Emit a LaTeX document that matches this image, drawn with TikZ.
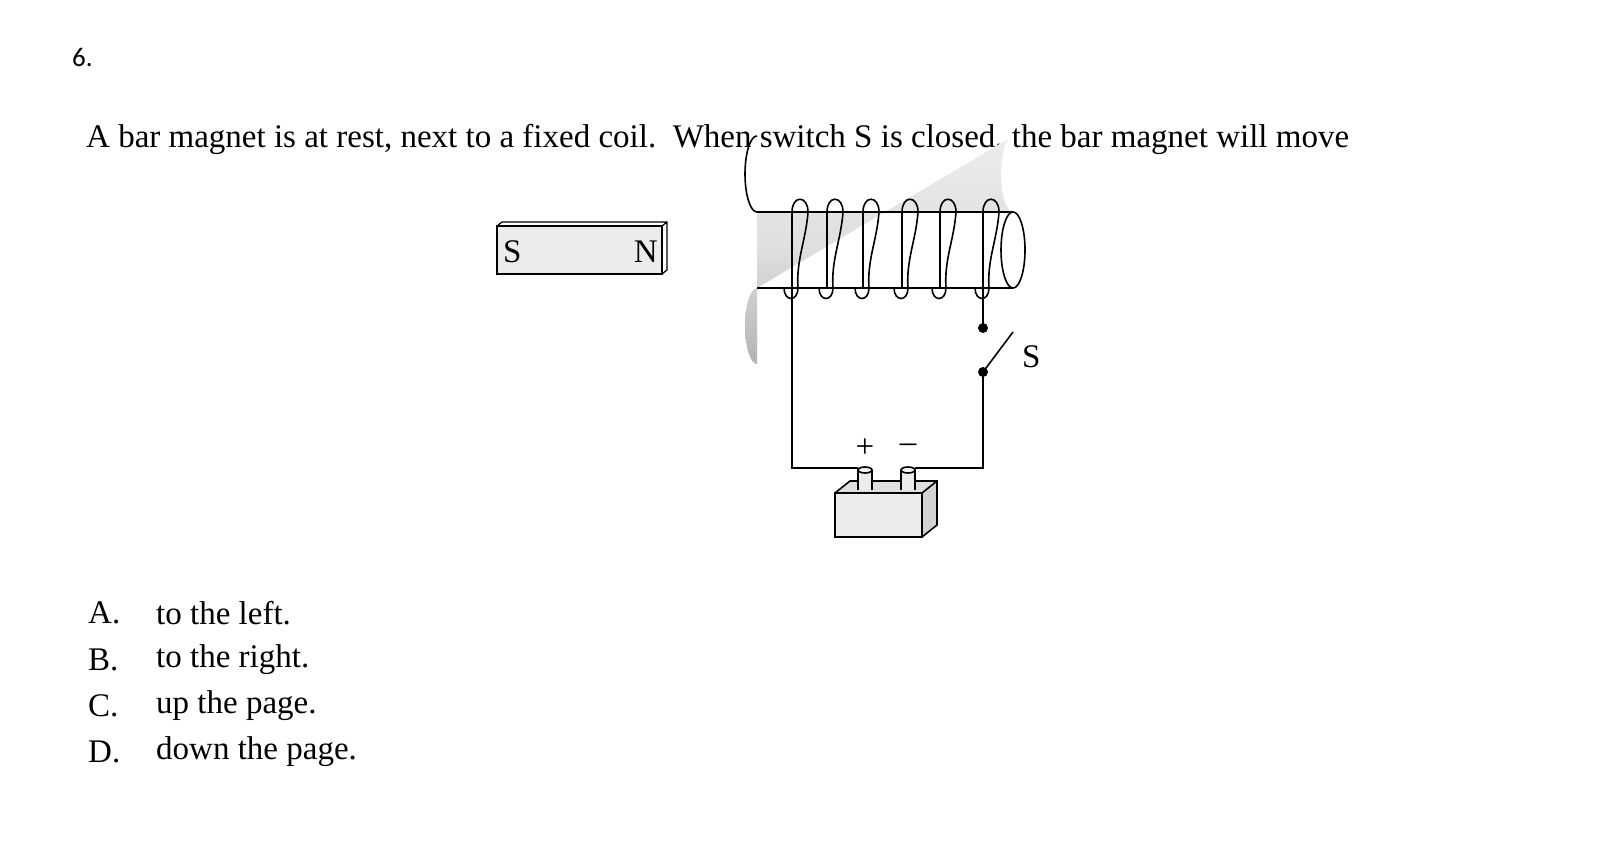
\documentclass[tikz,border=0pt]{standalone}
\usepackage{fontspec}
\setmainfont{Liberation Serif}
\newfontfamily\numfont{Carlito}
\begin{document}
\begin{tikzpicture}[x=1pt,y=-1pt,
  wire/.style={line width=1.6pt},
  txt/.style={font=\fontsize{33}{36}\selectfont,inner sep=0pt},
  dot/.style={circle,fill=black,inner sep=0pt,minimum size=10pt}]
\useasboundingbox (0,0) rectangle (1613,845);
\node[font=\numfont\fontsize{27}{30}\selectfont,anchor=west,inner sep=0pt] (num) at (72,57) {6.};
\node[txt,anchor=base west] (q) at (86,148) {A bar magnet is at rest, next to a fixed coil.\ \ When switch S is closed, the bar magnet will move};
% magnet
\fill[gray!15] (497,226) rectangle (662,274);
\draw[wire] (497,226) rectangle (662,274);
\draw[line width=1.2pt] (497,226) -- (502,222) -- (667,222) -- (667,270) -- (662,274) (662,226) -- (667,222);
\node[txt,anchor=west] (ms) at (503,252) {S};
\node[txt,anchor=east] (mn) at (658,252) {N};
% coil
\shade[top color=gray!15,bottom color=gray!60,middle color=gray!25] (757,212) -- (1013,212) arc (90:270:12 and 38) -- (757,288) arc (270:90:12 and 38) -- cycle;
\draw[wire] (757,212) -- (1013,212) (757,288) -- (1013,288);
\draw[wire] (757,212) arc (90:270:12 and 38);
\draw[wire] (1013,250) ellipse (12 and 38);
\foreach \x in {792,827,863,902,940,983}{
  \draw[wire] (\x,212) .. controls (\x,195) and (\x+16,195) .. (\x+16,212)
    .. controls (\x+14,240) and (\x+4,260) .. (\x+6,288);
  \draw[wire] (\x,212) -- (\x,288);
  \draw[wire] (\x+6,288) .. controls (\x+6,302) and (\x-8,302) .. (\x-8,288);
}
\draw[wire] (792,212) -- (792,288);
% circuit
\coordinate (cl) at (792,288);
\coordinate (cr) at (983,288);
\node[dot] (d1) at (983,328) {};
\node[dot] (d2) at (983,372) {};
\coordinate (sw) at (1013,332);
\node[txt,anchor=west] (sl) at (1022,357) {S};
\coordinate (bl) at (792,468);
\coordinate (br) at (983,468);
% battery
\fill[gray!15] (835,493) rectangle (922,537);
\fill[gray!25] (835,493) -- (850,481) -- (937,481) -- (922,493) -- cycle;
\fill[gray!35] (922,493) -- (937,481) -- (937,525) -- (922,537) -- cycle;
\draw[wire] (835,493) rectangle (922,537);
\draw[wire] (835,493) -- (850,481) -- (937,481) -- (937,525) -- (922,537) (922,493) -- (937,481);
\foreach \t/\x in {tp/865,tn/908}{
  \fill[gray!15] (\x-7,470) rectangle (\x+7,490);
  \draw[wire] (\x-7,470) -- (\x-7,490) (\x+7,470) -- (\x+7,490);
  \draw[wire,fill=gray!10] (\x,470) ellipse (7 and 3);
  \coordinate (\t) at (\x,468);
}
\node[txt,anchor=center] (plus) at (865,448) {+};
\node[txt,anchor=center] (minus) at (908,448) {\textendash};
\draw[wire] (cl) -- (bl) -- ([xshift=-7pt]tp);
\draw[wire] ([xshift=7pt]tn) -- (br) -- (d2.center);
\draw[wire] (cr) -- (d1.center);
\draw[wire] (d2.center) -- (sw);
% answers
\foreach \l/\t/\y [count=\i] in {A./to the left./613, B./to the right./660, C./up the page./706, D./down the page./752}{
  \node[txt,anchor=west] (l\i) at (88,\y) {\l};
  \node[txt,anchor=west] (a\i) at (156,\y) {\t};
}
\end{tikzpicture}
\end{document}
